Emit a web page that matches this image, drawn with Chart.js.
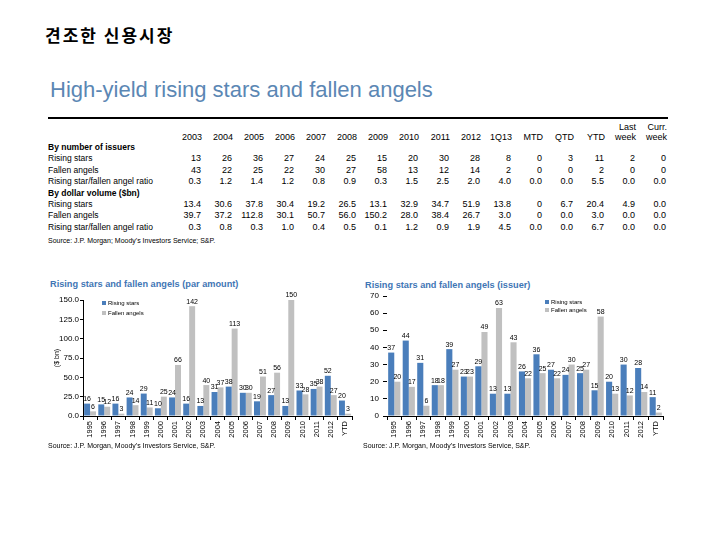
<!DOCTYPE html>
<html>
<head>
<meta charset="utf-8">
<script src="https://cdn.jsdelivr.net/npm/chart.js@4.4.0/dist/chart.umd.min.js"></script>
<style>
body { margin: 0; width: 720px; height: 540px; background: #fff; position: relative; overflow: hidden;
       font-family: Arial, "Liberation Sans", sans-serif; color: #000; }
.abs { position: absolute; white-space: nowrap; }
#slideTitle { left: 45px; top: 24px; font-family: "Noto Sans CJK KR", sans-serif; font-size: 17px; font-weight: bold; letter-spacing: 2px; line-height: 22px; }
#subTitle { left: 50px; top: 77px; font-size: 22px; line-height: 26px; color: #5b87b4; }
#topRule { left: 48px; top: 117px; width: 620px; height: 1.5px; background: #000; }
#tbl { left: 48px; top: 119px; border-collapse: collapse; table-layout: fixed; font-size: 8.5px; }
#tbl td, #tbl th { padding: 0; overflow: hidden; }
#tbl th { font-weight: normal; text-align: right; vertical-align: bottom; line-height: 10px; height: 23px; padding-right: 1px; font-size: 9px; }
#tbl td { height: 11.4px; line-height: 11.4px; }
#tbl td.v { text-align: right; padding-right: 2px; font-size: 9px; }
#tbl td.sec { font-weight: bold; }
.src { font-size: 7px; }
.ctitle { font-size: 9.2px; font-weight: bold; color: #3f76b5; line-height: 12px; }
canvas { position: absolute; }
</style>
</head>
<body>
<div class="abs" id="slideTitle">견조한 신용시장</div>
<div class="abs" id="subTitle">High-yield rising stars and fallen angels</div>
<div class="abs" id="topRule"></div>
<table class="abs" id="tbl"></table>
<div class="abs src" style="left:48px;top:237px">Source: J.P. Morgan; Moody's Investors Service; S&amp;P.</div>

<div class="abs ctitle" style="left:50px;top:278px">Rising stars and fallen angels (par amount)</div>
<canvas id="parChart" width="318" height="156" style="left:40px;top:288px"></canvas>
<div class="abs src" style="left:48px;top:442px">Source: J.P. Morgan, Moody's Investors Service, S&amp;P.</div>

<div class="abs ctitle" style="left:365px;top:279px">Rising stars and fallen angels (issuer)</div>
<canvas id="issuerChart" width="315" height="158" style="left:355px;top:286px"></canvas>
<div class="abs src" style="left:363px;top:442px">Source: J.P. Morgan, Moody's Investors Service, S&amp;P.</div>

<script>
// table data
var tableCols = ['2003', '2004', '2005', '2006', '2007', '2008', '2009', '2010', '2011', '2012', '1Q13', 'MTD', 'QTD', 'YTD', 'Last<br>week', 'Curr.<br>week'];
var numRising = ['13', '26', '36', '27', '24', '25', '15', '20', '30', '28', '8', '0', '3', '11', '2', '0'];
var numFallen = ['43', '22', '25', '22', '30', '27', '58', '13', '12', '14', '2', '0', '0', '2', '0', '0'];
var numRatio = ['0.3', '1.2', '1.4', '1.2', '0.8', '0.9', '0.3', '1.5', '2.5', '2.0', '4.0', '0.0', '0.0', '5.5', '0.0', '0.0'];
var volRising = ['13.4', '30.6', '37.8', '30.4', '19.2', '26.5', '13.1', '32.9', '34.7', '51.9', '13.8', '0', '6.7', '20.4', '4.9', '0.0'];
var volFallen = ['39.7', '37.2', '112.8', '30.1', '50.7', '56.0', '150.2', '28.0', '38.4', '26.7', '3.0', '0', '0.0', '3.0', '0.0', '0.0'];
var volRatio = ['0.3', '0.8', '0.3', '1.0', '0.4', '0.5', '0.1', '1.2', '0.9', '1.9', '4.5', '0.0', '0.0', '6.7', '0.0', '0.0'];

// chart data
var years = ['1995', '1996', '1997', '1998', '1999', '2000', '2001', '2002', '2003', '2004', '2005', '2006', '2007', '2008', '2009', '2010', '2011', '2012', 'YTD'];
var parRising = [16, 15, 16, 24, 29, 10, 24, 16, 13, 31, 38, 30, 19, 27, 13, 33, 35, 52, 20];
var parFallen = [6, 12, 3, 14, 11, 25, 66, 142, 40, 37, 113, 30, 51, 56, 150, 28, 38, 27, 3];
var issuerRising = [37, 44, 31, 18, 39, 23, 29, 13, 13, 26, 36, 27, 24, 25, 15, 20, 30, 28, 11];
var issuerFallen = [20, 17, 6, 18, 27, 23, 49, 63, 43, 22, 25, 22, 30, 27, 58, 13, 12, 14, 2];

var blue = '#4a7ebb';
var grey = '#c0c0c0';

// build the table
var rows = [
  ['By number of issuers', null],
  ['Rising stars', numRising],
  ['Fallen angels', numFallen],
  ['Rising star/fallen angel ratio', numRatio],
  ['By dollar volume ($bn)', null],
  ['Rising stars', volRising],
  ['Fallen angels', volFallen],
  ['Rising star/fallen angel ratio', volRatio]
];
var html = '<colgroup><col style="width:124px">';
tableCols.forEach(function() { html += '<col style="width:31px">'; });
html += '</colgroup><tr><th></th>';
tableCols.forEach(function(c) { html += '<th>' + c + '</th>'; });
html += '</tr>';
rows.forEach(function(r) {
  if (r[1] === null) {
    html += '<tr><td class="sec" colspan="17">' + r[0].replace('$', '&#36;') + '</td></tr>';
  } else {
    html += '<tr><td>' + r[0] + '</td>';
    r[1].forEach(function(v) { html += '<td class="v">' + v + '</td>'; });
    html += '</tr>';
  }
});
document.getElementById('tbl').innerHTML = html;

// numbers above the bars
var valueLabels = {
  id: 'valueLabels',
  afterDatasetsDraw: function(chart) {
    var ctx = chart.ctx;
    ctx.save();
    ctx.font = '7px Arial';
    ctx.fillStyle = '#000';
    ctx.textAlign = 'center';
    ctx.textBaseline = 'bottom';
    chart.data.datasets.forEach(function(ds, i) {
      chart.getDatasetMeta(i).data.forEach(function(bar, j) {
        ctx.fillText(ds.data[j], bar.x, bar.y - 1);
      });
    });
    ctx.restore();
  }
};

// small legend drawn inside the plot area
function boxLegend(dx, dy, gap) {
  return {
    id: 'boxLegend',
    afterDraw: function(chart) {
      var ctx = chart.ctx, a = chart.chartArea;
      ctx.save();
      ctx.font = '6px Arial';
      ctx.textBaseline = 'middle';
      chart.data.datasets.forEach(function(ds, i) {
        var y = a.top + dy + i * gap;
        ctx.fillStyle = ds.backgroundColor;
        ctx.fillRect(a.left + dx, y - 2, 4, 4);
        ctx.fillStyle = '#000';
        ctx.fillText(ds.label, a.left + dx + 6, y);
      });
      ctx.restore();
    }
  };
}

function makeChart(id, rising, fallen, yOpts, pad, legendPos) {
  return new Chart(document.getElementById(id), {
    type: 'bar',
    data: {
      labels: years,
      datasets: [
        { label: 'Rising stars', data: rising, backgroundColor: blue, borderWidth: 0 },
        { label: 'Fallen angels', data: fallen, backgroundColor: grey, borderWidth: 0 }
      ]
    },
    options: {
      responsive: false,
      animation: false,
      layout: { padding: pad },
      categoryPercentage: 0.84,
      barPercentage: 1.0,
      plugins: { legend: { display: false }, tooltip: { enabled: false } },
      scales: {
        x: {
          ticks: { maxRotation: 90, minRotation: 90, autoSkip: false, padding: 1, color: '#000', font: { family: 'Arial', size: 7.5 } },
          grid: { drawOnChartArea: false, tickLength: 4, color: '#000' },
          border: { display: true, color: '#000' },
          afterFit: function(s) { s.height = 28; }
        },
        y: yOpts
      }
    },
    plugins: [valueLabels, boxLegend(legendPos[0], legendPos[1], legendPos[2])]
  });
}

makeChart('parChart', parRising, parFallen, {
  min: 0, max: 150,
  ticks: { stepSize: 25, padding: 1, color: '#000', font: { family: 'Arial', size: 8 },
           callback: function(v) { return v.toFixed(1); } },
  grid: { drawOnChartArea: false, tickLength: 3, color: '#000' },
  border: { display: true, color: '#000' },
  title: { display: true, text: '($ bn)', color: '#000', font: { family: 'Arial', size: 7 }, padding: { top: 13, bottom: 0 } },
  afterFit: function(s) { s.width = 43; }
}, { top: 12, right: 6, left: 0, bottom: 0 }, [19, 3, 10]);

makeChart('issuerChart', issuerRising, issuerFallen, {
  min: 0, max: 70,
  ticks: { stepSize: 10, padding: 4, color: '#000', font: { family: 'Arial', size: 8 } },
  grid: { drawOnChartArea: false, tickLength: 4, color: '#000' },
  border: { display: false },
  afterFit: function(s) { s.width = 32; }
}, { top: 10, right: 7, left: 0, bottom: 0 }, [158, 6, 8]);
</script>
</body>
</html>
